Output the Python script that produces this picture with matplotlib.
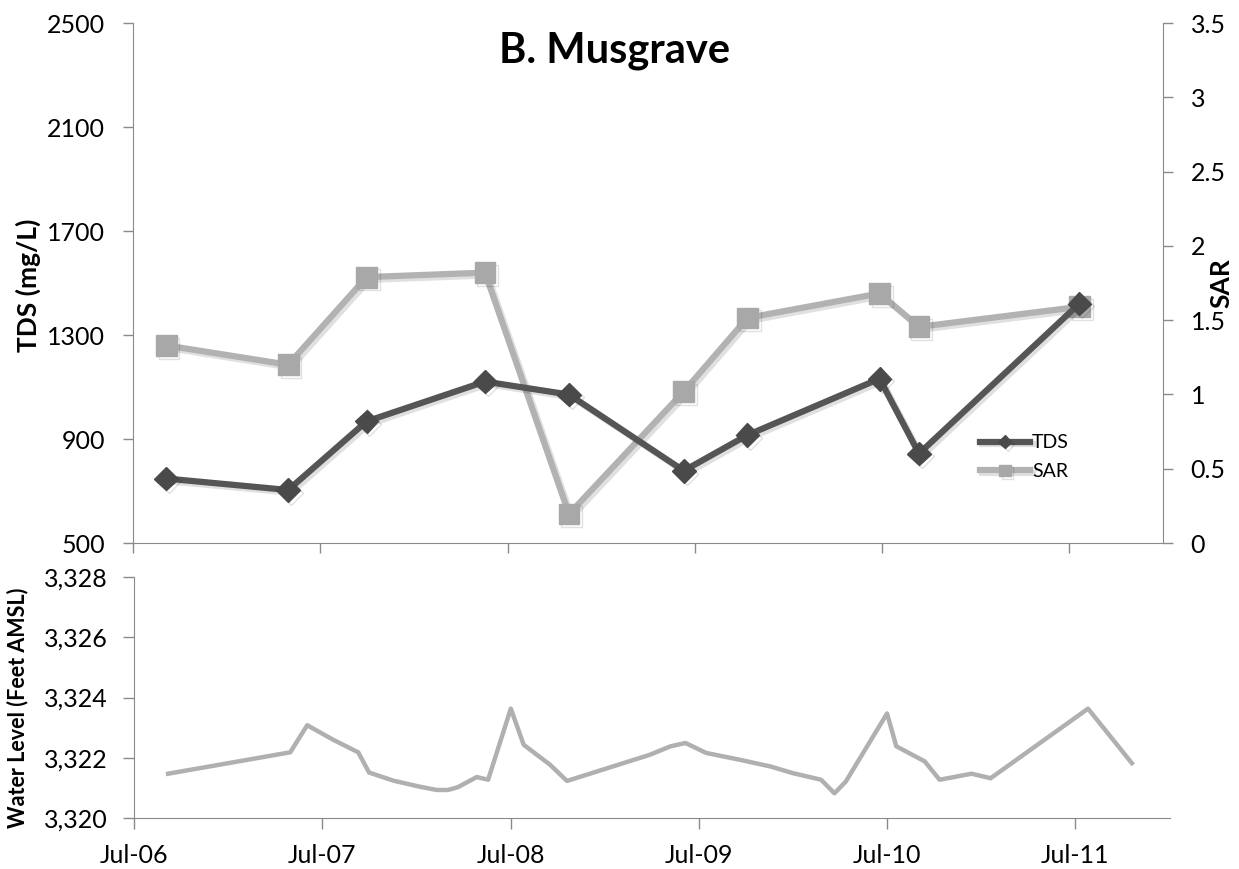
import numpy as np
import pandas as pd
import matplotlib
matplotlib.use("Agg")
import matplotlib.pyplot as plt
import matplotlib.dates as mdates
import matplotlib.patheffects as pe
from matplotlib.ticker import FuncFormatter

plt.rcParams['font.family'] = ['Lato', 'DejaVu Sans']

# sampling dates for water quality
wq_dates = pd.to_datetime(['2006-09-04', '2007-04-30', '2007-09-30', '2008-05-18',
                           '2008-10-29', '2009-06-10', '2009-10-12', '2010-06-27',
                           '2010-09-12', '2011-07-22'])
tds = [748, 704, 968, 1121, 1071, 778, 915, 1132, 844, 1421]
sar = [1.33, 1.20, 1.79, 1.82, 0.195, 1.02, 1.515, 1.68, 1.455, 1.59]

# water level record
wl_dates = pd.to_datetime(['2006-09-05', '2007-04-30', '2007-06-02', '2007-07-22',
                           '2007-09-09', '2007-09-30', '2007-11-16', '2008-01-06',
                           '2008-02-08', '2008-03-01', '2008-03-20', '2008-04-26',
                           '2008-05-18', '2008-07-01', '2008-07-26', '2008-09-15',
                           '2008-10-18', '2009-03-28', '2009-05-07', '2009-06-05',
                           '2009-07-15', '2009-09-19', '2009-11-17', '2009-12-30',
                           '2010-02-23', '2010-03-21', '2010-04-12', '2010-07-01',
                           '2010-07-19', '2010-09-12', '2010-10-11', '2010-12-12',
                           '2011-01-18', '2011-07-26', '2011-10-19'])
wl = [3321.47, 3322.18, 3323.08, 3322.60, 3322.18, 3321.51, 3321.24, 3321.04,
      3320.93, 3320.93, 3321.02, 3321.36, 3321.27, 3323.63, 3322.43, 3321.77,
      3321.23, 3322.10, 3322.38, 3322.49, 3322.16, 3321.93, 3321.71, 3321.49,
      3321.27, 3320.82, 3321.21, 3323.47, 3322.38, 3321.88, 3321.27, 3321.47,
      3321.32, 3323.63, 3321.82]

year_ticks = pd.to_datetime(['2006-07-01', '2007-07-01', '2008-07-01',
                             '2009-07-01', '2010-07-01', '2011-07-01'])
xmin, xmax = pd.Timestamp('2006-07-01'), pd.Timestamp('2012-01-01')

axis_col = '#8a8a8a'
tds_col = '#555555'
sar_col = '#b2b2b2'
shadow = [pe.SimpleLineShadow(offset=(2, -2), alpha=0.12), pe.Normal()]

fig = plt.figure(figsize=(12.39, 8.69), dpi=100)
ax1 = fig.add_axes([0.1073, 0.3751, 0.8313, 0.5984])
ax2 = ax1.twinx()
ax3 = fig.add_axes([0.1082, 0.0587, 0.8361, 0.2773])

# top panel
l1, = ax1.plot(wq_dates, tds, color=tds_col, lw=4.5, marker='D', ms=12,
               mfc='#4a4a4a', mec='#4a4a4a', label='TDS', zorder=3, path_effects=shadow)
l2, = ax2.plot(wq_dates, sar, color=sar_col, lw=4.5, marker='s', ms=15,
               mfc='#a8a8a8', mec='#a8a8a8', label='SAR', zorder=2, path_effects=shadow)
ax1.set_zorder(ax2.get_zorder() + 1)
ax1.patch.set_visible(False)

ax1.set_ylim(500, 2500)
ax1.set_yticks([500, 900, 1300, 1700, 2100, 2500])
ax2.set_ylim(0, 3.5)
ax2.set_yticks([0, 0.5, 1, 1.5, 2, 2.5, 3, 3.5])
ax2.yaxis.set_major_formatter(FuncFormatter(lambda v, p: f'{v:g}'))
ax1.set_xlim(xmin, xmax)
ax1.set_xticks(year_ticks)
ax1.tick_params(axis='x', labelbottom=False)

for a in (ax1, ax2):
    a.spines['top'].set_visible(False)
ax1.spines['right'].set_visible(False)
ax2.spines['left'].set_visible(False)
ax2.spines['bottom'].set_visible(False)
ax1.spines['left'].set_color(axis_col)
ax1.spines['bottom'].set_color(axis_col)
ax2.spines['right'].set_color(axis_col)
for a in (ax1, ax2):
    a.tick_params(direction='out', length=7, width=1, color=axis_col,
                  labelsize=18, pad=13)

leg = ax1.legend(handles=[l1, l2], loc='center left', bbox_to_anchor=(0.805, 0.165),
                 frameon=False, fontsize=14, handlelength=2.6, handletextpad=0.1,
                 markerscale=0.55, labelspacing=0.6)

fig.text(0.496, 0.942, 'B. Musgrave', ha='center', va='center',
         fontsize=30, fontweight='bold')
fig.text(0.0226, 0.672, 'TDS (mg/L)', rotation=90, ha='center', va='center',
         fontsize=19, fontweight='bold')
fig.text(0.986, 0.674, 'SAR', rotation=90, ha='center', va='center',
         fontsize=19, fontweight='bold')

# bottom panel
ax3.plot(wl_dates, wl, color='#b0b0b0', lw=3.2)
ax3.set_ylim(3320, 3328)
ax3.set_yticks([3320, 3322, 3324, 3326, 3328])
ax3.yaxis.set_major_formatter(FuncFormatter(lambda v, p: f'{v:,.0f}'))
ax3.set_xlim(xmin, xmax)
ax3.set_xticks(year_ticks)
ax3.xaxis.set_major_formatter(mdates.DateFormatter('%b-%y'))
for s in ['top', 'right']:
    ax3.spines[s].set_visible(False)
ax3.spines['left'].set_color(axis_col)
ax3.spines['bottom'].set_color(axis_col)
ax3.tick_params(direction='out', length=8, width=1, color=axis_col,
                labelsize=18, pad=11)
fig.text(0.0145, 0.186, 'Water Level (Feet AMSL)', rotation=90, ha='center',
         va='center', fontsize=15.5, fontweight='bold')

fig.savefig('out.png', dpi=100)
